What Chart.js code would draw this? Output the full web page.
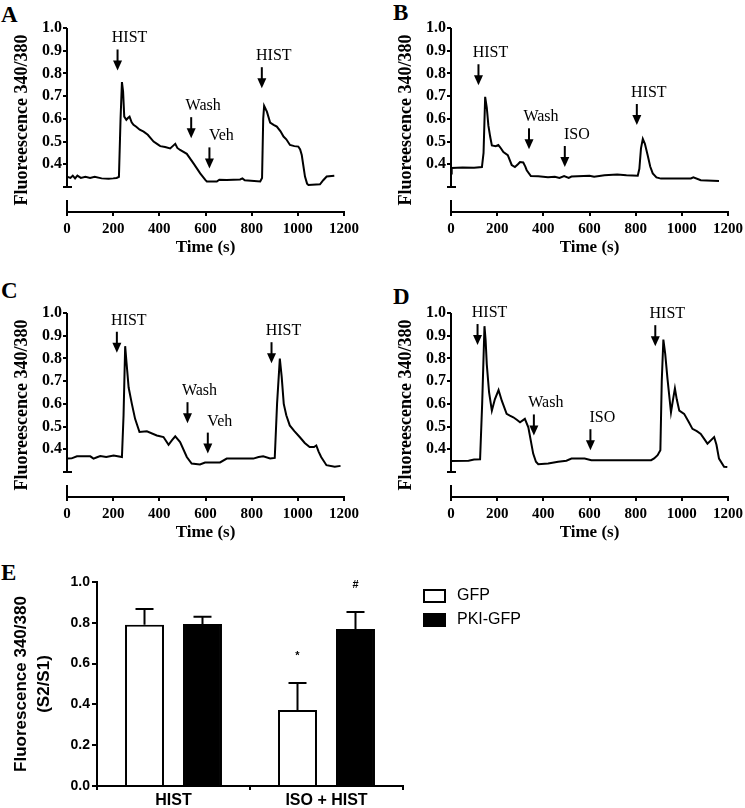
<!DOCTYPE html>
<html>
<head>
<meta charset="utf-8">
<script src="https://cdn.jsdelivr.net/npm/chart.js@4.4.1/dist/chart.umd.min.js"></script>
<style>
  body { margin:0; width:745px; height:808px; overflow:hidden; background:#fff; position:relative; }
  canvas { position:absolute; }
  .letter { position:absolute; font:bold 23px "Liberation Serif"; line-height:23px; color:#000; }
</style>
</head>
<body>
<div class="letter" style="left:1px;top:3px">A</div>
<div class="letter" style="left:393px;top:1px">B</div>
<div class="letter" style="left:1px;top:279px">C</div>
<div class="letter" style="left:393px;top:285px">D</div>
<div class="letter" style="left:1px;top:561px">E</div>

<canvas id="chartA" width="372" height="262" style="left:0;top:0"></canvas>
<canvas id="chartB" width="372" height="262" style="left:384px;top:0"></canvas>
<canvas id="chartC" width="372" height="262" style="left:0;top:285px"></canvas>
<canvas id="chartD" width="372" height="262" style="left:384px;top:285px"></canvas>
<canvas id="chartE" width="745" height="248" style="left:0;top:560px"></canvas>

<script>
// --- traces (time in s, ratio 340/380) ---
const timesA = [0,15,25,35,45,60,80,100,120,150,180,200,215,225,232,238,243,248,257,265,271,280,288,300,315,332,350,375,390,404,425,447,458,469,478,490,519,548,577,600,606,649,660,692,750,760,770,837,845,850,854,862,866,880,895,909,925,938,950,966,985,1002,1010,1017,1031,1040,1046,1096,1110,1125,1158];
const valuesA = [0.345,0.34,0.35,0.338,0.35,0.34,0.345,0.34,0.345,0.338,0.336,0.338,0.34,0.345,0.6,0.762,0.72,0.61,0.596,0.605,0.61,0.585,0.574,0.565,0.552,0.544,0.53,0.5,0.49,0.48,0.476,0.47,0.48,0.49,0.472,0.463,0.446,0.404,0.36,0.33,0.324,0.324,0.332,0.331,0.333,0.338,0.33,0.324,0.34,0.6,0.657,0.64,0.632,0.584,0.574,0.566,0.545,0.522,0.51,0.485,0.48,0.478,0.465,0.441,0.346,0.315,0.309,0.312,0.33,0.346,0.35];

const timesB = [0,3,50,100,134,141,148,155,162,170,177,194,205,213,227,246,263,277,290,299,313,322,328,346,378,420,450,470,490,510,522,600,620,665,720,760,809,816,823,831,840,852,863,874,890,910,1039,1050,1082,1161];
const valuesB = [0.36,0.384,0.386,0.385,0.388,0.45,0.697,0.65,0.57,0.52,0.483,0.48,0.485,0.475,0.454,0.44,0.397,0.388,0.4,0.41,0.408,0.39,0.374,0.348,0.347,0.343,0.345,0.34,0.348,0.34,0.346,0.35,0.345,0.352,0.355,0.352,0.35,0.38,0.47,0.512,0.49,0.44,0.39,0.36,0.342,0.337,0.338,0.343,0.33,0.327];

const timesC = [0,20,43,101,115,130,144,170,202,238,245,252,258,267,281,295,314,346,389,418,440,455,469,490,519,540,576,598,663,692,807,830,850,880,900,910,922,930,939,950,965,985,1008,1030,1051,1070,1080,1090,1101,1124,1160,1185];
const valuesC = [0.359,0.36,0.369,0.369,0.359,0.365,0.37,0.366,0.373,0.366,0.55,0.854,0.78,0.672,0.6,0.534,0.476,0.479,0.461,0.454,0.42,0.44,0.457,0.432,0.366,0.337,0.333,0.342,0.342,0.359,0.359,0.366,0.369,0.36,0.362,0.6,0.799,0.72,0.6,0.55,0.505,0.48,0.454,0.428,0.41,0.41,0.417,0.39,0.366,0.33,0.323,0.327];

const timesD = [0,76,100,126,135,145,150,155,165,177,190,206,220,241,255,270,285,299,320,335,356,368,378,421,464,500,522,579,608,867,880,895,907,913,920,928,938,953,962,970,978,989,1010,1030,1046,1065,1082,1111,1140,1150,1161,1183,1197];
const valuesD = [0.349,0.35,0.355,0.356,0.6,0.942,0.88,0.774,0.65,0.57,0.62,0.661,0.614,0.556,0.548,0.541,0.53,0.519,0.534,0.497,0.381,0.345,0.334,0.337,0.345,0.35,0.359,0.359,0.352,0.352,0.36,0.374,0.396,0.7,0.883,0.82,0.709,0.563,0.62,0.668,0.62,0.57,0.556,0.52,0.49,0.48,0.468,0.425,0.454,0.42,0.359,0.323,0.322];

// arrow annotations: label, time, value at arrow tip
const notesA = { labels:['HIST','Wash','Veh','HIST'], times:[219,538,617,844], tips:[0.813,0.515,0.382,0.735] };
const notesB = { labels:['HIST','Wash','ISO','HIST'], times:[119,338,493,805], tips:[0.748,0.466,0.388,0.573] };
const notesC = { labels:['HIST','Wash','Veh','HIST'], times:[216,522,610,886], tips:[0.825,0.515,0.381,0.779] };
const notesD = { labels:['HIST','Wash','ISO','HIST'], times:[115,359,604,885], tips:[0.859,0.461,0.396,0.854] };

const traceYTicks = [0.3,0.4,0.5,0.6,0.7,0.8,0.9,1.0];

// --- panel E ---
const groups = ['HIST','ISO + HIST'];
const gfpMeans = [0.79,0.372];
const gfpSem = [0.078,0.133];
const pkiMeans = [0.794,0.77];
const pkiSem = [0.036,0.083];
const gfpMarks = ['','*'];
const pkiMarks = ['','#'];

const SERIF = '"Liberation Serif", "Times New Roman", serif';
const SANS = '"Liberation Sans", Arial, sans-serif';
Chart.defaults.color = '#000';

// broken y axis + arrows for the trace panels
const traceDeco = {
  id: 'traceDeco',
  afterDraw(chart, args, opts) {
    const ctx = chart.ctx, x = chart.scales.x, y = chart.scales.y;
    const area = chart.chartArea;
    ctx.save();
    ctx.strokeStyle = '#000'; ctx.fillStyle = '#000'; ctx.lineWidth = 2;
    const y1 = y.getPixelForValue(1.0), y3 = y.getPixelForValue(0.3);
    ctx.beginPath();
    ctx.moveTo(area.left, y1); ctx.lineTo(area.left, y3);
    ctx.moveTo(area.left - 4, y3); ctx.lineTo(area.left + 5, y3);
    ctx.moveTo(area.left, area.bottom); ctx.lineTo(area.left, area.bottom - 12);
    ctx.stroke();
    ctx.font = '16px ' + SERIF; ctx.textAlign = 'center'; ctx.textBaseline = 'alphabetic';
    opts.labels.forEach((lab, i) => {
      const px = x.getPixelForValue(opts.times[i]);
      const tip = y.getPixelForValue(opts.tips[i]);
      ctx.beginPath(); ctx.moveTo(px, tip - 21); ctx.lineTo(px, tip - 8); ctx.stroke();
      ctx.beginPath(); ctx.moveTo(px - 4.5, tip - 10); ctx.lineTo(px + 4.5, tip - 10); ctx.lineTo(px, tip); ctx.closePath(); ctx.fill();
      ctx.fillText(lab, px + 12, tip - 28);
    });
    ctx.restore();
  }
};

function tracePanel(id, times, values, notes) {
  new Chart(document.getElementById(id), {
    type: 'line',
    data: { datasets: [{ data: times.map((t, i) => ({ x: t, y: values[i] })), borderColor: '#000', borderWidth: 2, pointRadius: 0, tension: 0, fill: false }] },
    options: {
      responsive: false, animation: false,
      layout: { padding: { left: 6, top: 28, right: 28, bottom: 0 } },
      plugins: { legend: { display: false }, tooltip: { enabled: false }, traceDeco: notes },
      scales: {
        x: {
          type: 'linear', min: 0, max: 1200,
          afterFit: s => { s.height = 50; },
          ticks: { stepSize: 200, padding: 4, maxRotation: 0, callback: v => String(v), font: { family: SERIF, size: 15, weight: 'bold' } },
          grid: { display: true, drawOnChartArea: false, tickLength: 4, color: '#000', lineWidth: 2 },
          border: { display: true, color: '#000', width: 2 },
          title: { display: true, text: 'Time (s)', font: { family: SERIF, size: 17, weight: 'bold' }, padding: { top: 0, bottom: 4 } }
        },
        y: {
          min: 0.19, max: 1.0,
          afterFit: s => { s.width = 61; },
          afterBuildTicks: s => { s.ticks = traceYTicks.map(v => ({ value: v })); },
          ticks: { padding: 1, callback: v => (v < 0.35 ? '' : v.toFixed(1)), font: { family: SERIF, size: 16, weight: 'bold' } },
          grid: { display: true, drawOnChartArea: false, tickLength: 4, color: '#000', lineWidth: 2 },
          border: { display: false },
          title: { display: true, text: 'Fluoreescence 340/380', font: { family: SERIF, size: 18, weight: 'bold' }, padding: { top: 6, bottom: 0 } }
        }
      }
    },
    plugins: [traceDeco]
  });
}

tracePanel('chartA', timesA, valuesA, notesA);
tracePanel('chartB', timesB, valuesB, notesB);
tracePanel('chartC', timesC, valuesC, notesC);
tracePanel('chartD', timesD, valuesD, notesD);

// error bars, significance marks and legend for panel E
const barDeco = {
  id: 'barDeco',
  afterDatasetsDraw(chart) {
    const ctx = chart.ctx, y = chart.scales.y;
    ctx.save();
    ctx.strokeStyle = '#000'; ctx.fillStyle = '#000'; ctx.lineWidth = 2;
    chart.data.datasets.forEach((ds, di) => {
      chart.getDatasetMeta(di).data.forEach((bar, i) => {
        const top = y.getPixelForValue(ds.data[i] + ds.sem[i]);
        ctx.beginPath();
        ctx.moveTo(bar.x, bar.y); ctx.lineTo(bar.x, top);
        ctx.moveTo(bar.x - 9, top); ctx.lineTo(bar.x + 9, top);
        ctx.stroke();
        if (ds.marks[i]) {
          ctx.font = 'bold 11px ' + SANS; ctx.textAlign = 'center'; ctx.textBaseline = 'middle';
          ctx.fillText(ds.marks[i], bar.x, top - 27);
        }
      });
    });
    // legend
    const area = chart.chartArea;
    ctx.font = '16px ' + SANS; ctx.textAlign = 'left'; ctx.textBaseline = 'middle';
    chart.data.datasets.forEach((ds, di) => {
      const cy = area.top + 14 + di * 24;
      ctx.fillStyle = ds.backgroundColor;
      ctx.fillRect(area.right + 21, cy - 6, 21, 12);
      ctx.strokeRect(area.right + 21, cy - 6, 21, 12);
      ctx.fillStyle = '#000';
      ctx.fillText(ds.label, area.right + 54, cy);
    });
    ctx.restore();
  }
};

new Chart(document.getElementById('chartE'), {
  type: 'bar',
  data: {
    labels: groups,
    datasets: [
      { label: 'GFP', data: gfpMeans, sem: gfpSem, marks: gfpMarks, backgroundColor: '#fff', borderColor: '#000', borderWidth: 2, categoryPercentage: 0.758, barPercentage: 0.672 },
      { label: 'PKI-GFP', data: pkiMeans, sem: pkiSem, marks: pkiMarks, backgroundColor: '#000', borderColor: '#000', borderWidth: 2, categoryPercentage: 0.758, barPercentage: 0.672 }
    ]
  },
  options: {
    responsive: false, animation: false,
    layout: { padding: { left: 5, top: 22, right: 342, bottom: 0 } },
    plugins: { legend: { display: false }, tooltip: { enabled: false } },
    scales: {
      x: {
        afterFit: s => { s.height = 22; },
        ticks: { padding: 1, font: { family: SANS, size: 16, weight: 'bold' } },
        grid: { display: true, drawOnChartArea: false, tickLength: 4, color: '#000', lineWidth: 2 },
        border: { display: true, color: '#000', width: 2 }
      },
      y: {
        min: 0, max: 1,
        afterFit: s => { s.width = 92; },
        ticks: { stepSize: 0.2, padding: 2, callback: v => v.toFixed(1), font: { family: SANS, size: 14, weight: 'bold' } },
        grid: { display: true, drawOnChartArea: false, tickLength: 5, color: '#000', lineWidth: 2 },
        border: { display: true, color: '#000', width: 2 },
        title: { display: true, text: ['Fluorescence 340/380', '(S2/S1)'], font: { family: SANS, size: 17, weight: 'bold', lineHeight: 1.35 }, padding: { top: 5, bottom: 0 } }
      }
    }
  },
  plugins: [barDeco]
});
</script>
</body>
</html>
